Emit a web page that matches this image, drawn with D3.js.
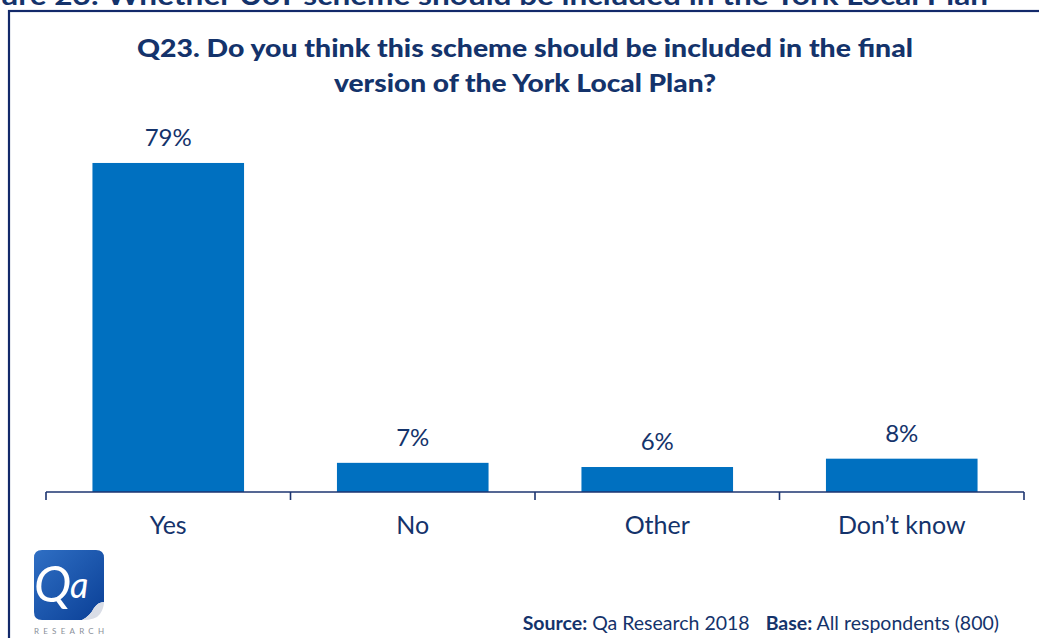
<!DOCTYPE html>
<html>
<head>
<meta charset="utf-8">
<script src="https://cdn.jsdelivr.net/npm/d3@7"></script>
<style>
  html, body { margin: 0; padding: 0; background: #ffffff; }
  svg { display: block; }
  text { font-family: Lato, "Open Sans", "DejaVu Sans", sans-serif; }
</style>
</head>
<body>
<svg id="chart" width="1039" height="638"></svg>
<script>
// Survey answers and their shares (%)
const categories = ["Yes", "No", "Other", "Don\u2019t know"];
const shares = [79, 7, 6, 8];
const valueLabels = ["79%", "7%", "6%", "8%"];
const titleLines = [
  "Q23.  Do you think this scheme should be included in the final",
  "version of the York Local Plan?"
];

const navy = "#14336b";
const barBlue = "#0070c0";

const svg = d3.select("#chart");
const W = 1039, H = 638;

// Page heading, cropped by the top edge
svg.append("text")
  .attr("x", -42).attr("y", 5)
  .attr("font-size", 26).attr("font-weight", 700)
  .attr("fill", navy)
  .attr("textLength", 1030).attr("lengthAdjust", "spacingAndGlyphs")
  .text("Figure 23: Whether UoY scheme should be included in the York Local Plan");

// Framed panel
svg.append("rect")
  .attr("x", 9).attr("y", 11)
  .attr("width", W + 20).attr("height", H + 20)
  .attr("fill", "#ffffff")
  .attr("stroke", "#13296a").attr("stroke-width", 2.2);

// Title
const titleY = [57, 92];
const titleW = [776, 382];
titleLines.forEach((t, i) => {
  svg.append("text")
    .attr("x", 525).attr("y", titleY[i])
    .attr("text-anchor", "middle")
    .attr("font-size", 25).attr("font-weight", 900)
    .attr("fill", navy)
    .attr("textLength", titleW[i]).attr("lengthAdjust", "spacingAndGlyphs")
    .text(t);
});

// Scales
const x = d3.scaleBand()
  .domain(categories)
  .range([46, 1024])
  .paddingInner(0.38)
  .paddingOuter(0.19);

const y = d3.scaleLinear()
  .domain([0, 100])
  .range([492, 75.5]);

const data = categories.map((c, i) => ({ cat: c, v: shares[i], label: valueLabels[i] }));

// Bars
svg.append("g")
  .selectAll("rect")
  .data(data)
  .join("rect")
  .attr("x", d => x(d.cat))
  .attr("y", d => y(d.v))
  .attr("width", x.bandwidth())
  .attr("height", d => y(0) - y(d.v))
  .attr("fill", barBlue);

// Value labels
svg.append("g")
  .selectAll("text")
  .data(data)
  .join("text")
  .attr("x", d => x(d.cat) + x.bandwidth() / 2)
  .attr("y", d => y(d.v) - 17)
  .attr("text-anchor", "middle")
  .attr("font-size", 24)
  .attr("fill", navy)
  .text(d => d.label);

// Category axis with boundary ticks
const axisY = y(0);
const axisG = svg.append("g").attr("stroke", "#1c3470").attr("stroke-width", 1.6);
axisG.append("line")
  .attr("x1", 46).attr("x2", 1024)
  .attr("y1", axisY).attr("y2", axisY);
const tickXs = categories.map((c, i) => 46 + i * x.step()).concat([46 + categories.length * x.step()]);
axisG.selectAll("line.tick")
  .data(tickXs)
  .join("line")
  .attr("class", "tick")
  .attr("x1", d => d).attr("x2", d => d)
  .attr("y1", axisY).attr("y2", axisY + 8);

svg.append("g")
  .selectAll("text")
  .data(categories)
  .join("text")
  .attr("x", d => x(d) + x.bandwidth() / 2)
  .attr("y", 534)
  .attr("text-anchor", "middle")
  .attr("font-size", 25)
  .attr("fill", navy)
  .text(d => d);

// Source / base note
const note = svg.append("text")
  .attr("x", 999).attr("y", 630)
  .attr("text-anchor", "end")
  .attr("font-size", 19.5)
  .attr("fill", navy);
note.append("tspan").attr("font-weight", 700).text("Source:");
note.append("tspan").text(" Qa Research 2018");
note.append("tspan").attr("dx", 16).attr("font-weight", 700).text("Base:");
note.append("tspan").text(" All respondents (800)");

// Qa Research logo
const logo = svg.append("g").attr("transform", "translate(34,550)");
const grad = svg.append("defs").append("linearGradient")
  .attr("id", "logoGrad").attr("x1", "0").attr("y1", "0").attr("x2", "1").attr("y2", "1");
grad.append("stop").attr("offset", "0").attr("stop-color", "#2f6fc4");
grad.append("stop").attr("offset", "1").attr("stop-color", "#0a3f96");
logo.append("path")
  .attr("d", "M8,0 H62 Q70,0 70,8 V52 Q64,52 60,58 Q56,66 48,70 H8 Q0,70 0,62 V8 Q0,0 8,0 Z")
  .attr("fill", "url(#logoGrad)");
logo.append("path")
  .attr("d", "M70,52 Q64,52 60,58 Q56,66 48,70 Q62,70 66,64 Q70,58 70,52 Z")
  .attr("fill", "#d9dde6");
logo.append("text")
  .attr("x", 0).attr("y", 52)
  .attr("font-family", "'DejaVu Serif', serif")
  .attr("font-size", 50).attr("font-style", "italic")
  .attr("fill", "#ffffff")
  .text("Q");
logo.append("text")
  .attr("x", 36).attr("y", 48)
  .attr("font-family", "'DejaVu Serif', serif")
  .attr("font-size", 36).attr("font-style", "italic")
  .attr("fill", "#ffffff")
  .text("a");
logo.append("text")
  .attr("x", 0).attr("y", 84)
  .attr("font-size", 8)
  .attr("fill", "#8a8f99")
  .attr("textLength", 70).attr("lengthAdjust", "spacing")
  .text("RESEARCH");
</script>
</body>
</html>
